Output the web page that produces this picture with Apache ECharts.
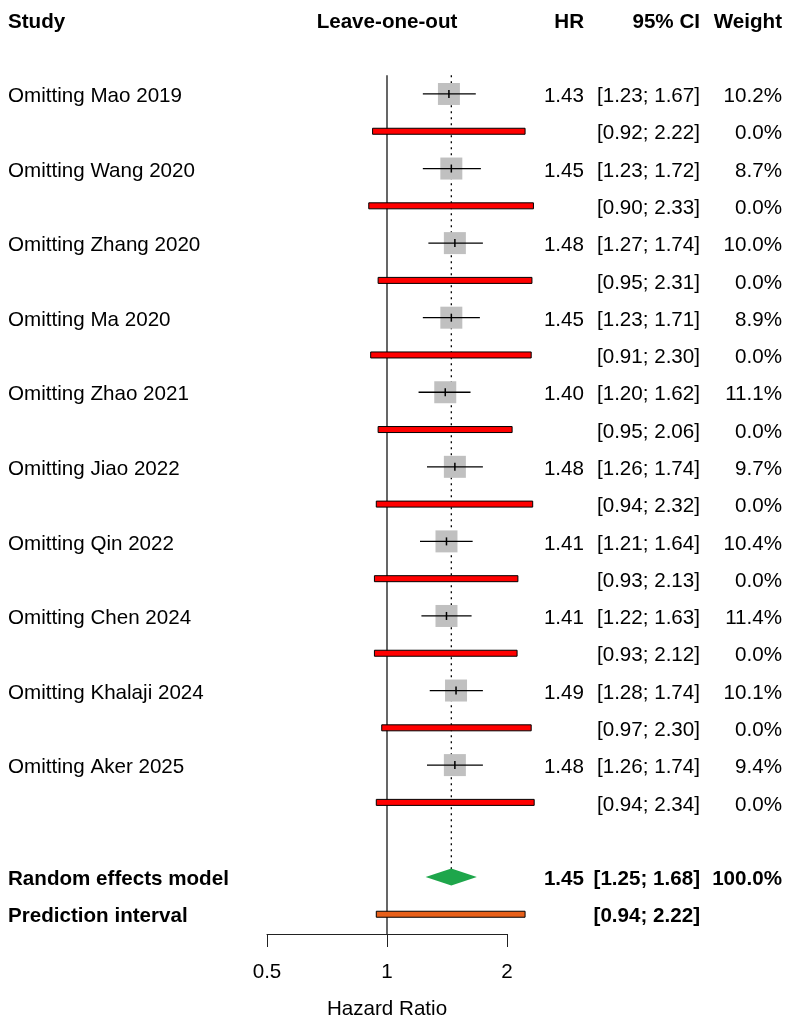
<!DOCTYPE html>
<html>
<head>
<meta charset="utf-8">
<script src="https://cdn.jsdelivr.net/npm/echarts@6/dist/echarts.min.js"></script>
<style>
  html, body { margin: 0; padding: 0; background: #fff; }
  #chart { width: 796px; height: 1023px; }
</style>
</head>
<body>
<div id="chart"></div>
<script>
// leave-one-out results
const studies = ['Omitting Mao 2019', 'Omitting Wang 2020', 'Omitting Zhang 2020', 'Omitting Ma 2020',
  'Omitting Zhao 2021', 'Omitting Jiao 2022', 'Omitting Qin 2022', 'Omitting Chen 2024',
  'Omitting Khalaji 2024', 'Omitting Aker 2025']
const hr = [1.43, 1.45, 1.48, 1.45, 1.40, 1.48, 1.41, 1.41, 1.49, 1.48]
const ciLow = [1.23, 1.23, 1.27, 1.23, 1.20, 1.26, 1.21, 1.22, 1.28, 1.26]
const ciHigh = [1.67, 1.72, 1.74, 1.71, 1.62, 1.74, 1.64, 1.63, 1.74, 1.74]
const weights = [10.2, 8.7, 10.0, 8.9, 11.1, 9.7, 10.4, 11.4, 10.1, 9.4]
// prediction interval for each leave-one-out fit (red bars)
const piLow = [0.92, 0.90, 0.95, 0.91, 0.95, 0.94, 0.93, 0.93, 0.97, 0.94]
const piHigh = [2.22, 2.33, 2.31, 2.30, 2.06, 2.32, 2.13, 2.12, 2.30, 2.34]
// pooled model
const pooledHR = 1.45
const pooledCI = [1.25, 1.68]
const predInterval = [0.94, 2.22]
const xTicks = [0.5, 1, 2]
const headers = ['Study', 'Leave-one-out', 'HR', '95% CI', 'Weight']

const FONT = '20.6px "Liberation Sans", Arial, sans-serif'
const BOLD = 'bold 20.6px "Liberation Sans", Arial, sans-serif'

const fmt = v => v.toFixed(2)
const ci = (a, b) => `[${fmt(a)}; ${fmt(b)}]`

// text table: [row, study, hr, ci, weight, bold]
const textRows = [[0, headers[0], headers[2], headers[3], headers[4], 1]]
studies.forEach((s, i) => {
  textRows.push([2 + 2 * i, s, fmt(hr[i]), ci(ciLow[i], ciHigh[i]), weights[i].toFixed(1) + '%', 0])
  textRows.push([3 + 2 * i, '', '', ci(piLow[i], piHigh[i]), '0.0%', 0])
})
textRows.push([23, 'Random effects model', fmt(pooledHR), ci(pooledCI[0], pooledCI[1]), '100.0%', 1])
textRows.push([24, 'Prediction interval', '', ci(predInterval[0], predInterval[1]), '', 1])

const chart = echarts.init(document.getElementById('chart'), null, { renderer: 'canvas' })

const txt = (x, y, text, align, bold) => ({
  type: 'text',
  style: { x, y: y + 2.5, text, align, verticalAlign: 'middle', font: bold ? BOLD : FONT, fill: '#000' }
})

const option = {
  animation: false,
  grid: { left: 267, right: 289, top: 19.4, bottom: 89, show: false, outerBoundsMode: 'none', containLabel: false },
  xAxis: {
    type: 'log',
    logBase: 2,
    min: 0.5,
    max: 2,
    name: 'Hazard Ratio',
    nameLocation: 'middle',
    nameGap: 65,
    nameTextStyle: { fontSize: 20.6, color: '#000', fontFamily: 'Liberation Sans' },
    axisLine: { show: true, onZero: false, lineStyle: { color: '#222', width: 1 } },
    axisTick: { show: true, length: 13, lineStyle: { color: '#222' } },
    axisLabel: { fontSize: 20.6, color: '#000', margin: 28, fontFamily: 'Liberation Sans',
      formatter: v => (xTicks.includes(+v) ? String(v) : '') },
    splitLine: { show: false }
  },
  yAxis: { type: 'value', inverse: true, min: 0, max: 24.53, show: false },
  series: [
    // reference lines: no effect (solid) and pooled estimate (dotted)
    {
      type: 'custom', clip: false, silent: true,
      data: [[1, 1.5, 24.53, 0], [pooledHR, 1.5, 23, 1]],
      renderItem: (params, api) => {
        const p1 = api.coord([api.value(0), api.value(1)])
        const p2 = api.coord([api.value(0), api.value(2)])
        const dotted = api.value(3) === 1
        return {
          type: 'line',
          shape: { x1: p1[0], y1: p1[1], x2: p2[0], y2: p2[1] },
          style: { stroke: '#000', lineWidth: dotted ? 1.3 : 1.2, lineDash: dotted ? [2, 4] : null }
        }
      }
    },
    // red prediction bars per leave-one-out fit
    {
      type: 'custom', clip: false, silent: true,
      data: piLow.map((lo, i) => [3 + 2 * i, lo, piHigh[i]]),
      renderItem: (params, api) => {
        const a = api.coord([api.value(1), api.value(0)])
        const b = api.coord([api.value(2), api.value(0)])
        return {
          type: 'rect',
          shape: { x: a[0], y: a[1] - 3, width: b[0] - a[0], height: 6 },
          style: { fill: '#ff0000', stroke: '#000', lineWidth: 1 }
        }
      }
    },
    // squares + CI lines
    {
      type: 'custom', clip: false, silent: true,
      data: hr.map((v, i) => [2 + 2 * i, v, ciLow[i], ciHigh[i], weights[i]]),
      renderItem: (params, api) => {
        const c = api.coord([api.value(1), api.value(0)])
        const lo = api.coord([api.value(2), api.value(0)])
        const hi = api.coord([api.value(3), api.value(0)])
        const s = 22
        return {
          type: 'group',
          children: [
            { type: 'rect', shape: { x: c[0] - s / 2, y: c[1] - s / 2, width: s, height: s },
              style: { fill: '#c0c0c0' } },
            { type: 'line', shape: { x1: lo[0], y1: c[1], x2: hi[0], y2: c[1] },
              style: { stroke: '#000', lineWidth: 1.3 } },
            { type: 'line', shape: { x1: c[0], y1: c[1] - 4, x2: c[0], y2: c[1] + 4 },
              style: { stroke: '#000', lineWidth: 1.5 } }
          ]
        }
      }
    },
    // pooled diamond and prediction interval
    {
      type: 'custom', clip: false, silent: true,
      data: [[23, pooledCI[0], pooledHR, pooledCI[1], 0], [24, predInterval[0], pooledHR, predInterval[1], 1]],
      renderItem: (params, api) => {
        const row = api.value(0)
        const a = api.coord([api.value(1), row])
        const m = api.coord([api.value(2), row])
        const b = api.coord([api.value(3), row])
        if (api.value(4) === 0) {
          return {
            type: 'polygon',
            shape: { points: [[a[0], a[1]], [m[0], m[1] - 8.5], [b[0], b[1]], [m[0], m[1] + 8.5]] },
            style: { fill: '#1ea64b' }
          }
        }
        return {
          type: 'rect',
          shape: { x: a[0], y: a[1] - 3, width: b[0] - a[0], height: 6 },
          style: { fill: '#e8601a', stroke: '#000', lineWidth: 1 }
        }
      }
    },
    // text columns
    {
      type: 'custom', clip: false, silent: true,
      data: textRows,
      renderItem: (params, api) => {
        const r = textRows[params.dataIndex]
        const y = api.coord([1, r[0]])[1]
        const bold = r[5] === 1
        const kids = [
          txt(8, y, r[1], 'left', bold),
          txt(584, y, r[2], 'right', bold),
          txt(700, y, r[3], 'right', bold),
          txt(782, y, r[4], 'right', bold)
        ]
        if (r[0] === 0) kids.push(txt(387, y, headers[1], 'center', true))
        return { type: 'group', children: kids }
      }
    }
  ]
}

chart.setOption(option)
</script>
</body>
</html>
